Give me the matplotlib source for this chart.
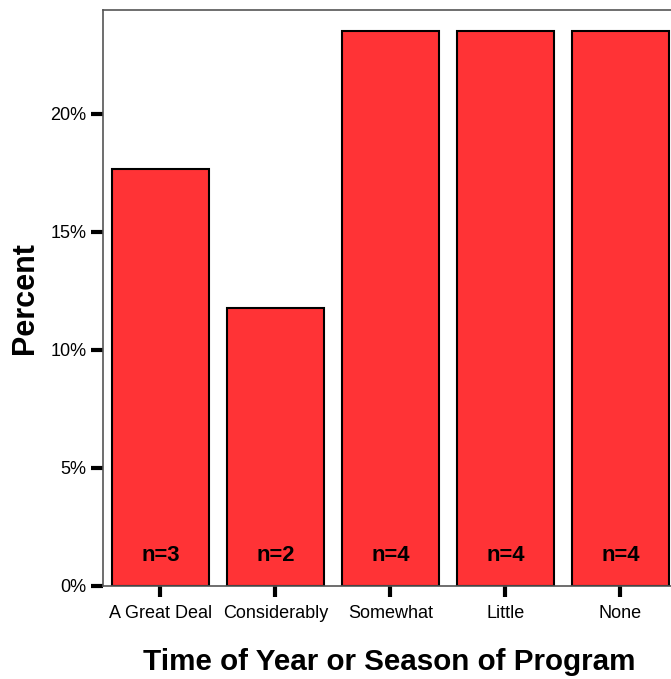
import matplotlib
matplotlib.use('Agg')
import matplotlib.pyplot as plt
from matplotlib.ticker import FuncFormatter

categories = ['A Great Deal', 'Considerably', 'Somewhat', 'Little', 'None']
counts = [3, 2, 4, 4, 4]
total = sum(counts)
percents = [100.0 * c / total for c in counts]

plt.rcParams['font.family'] = ['Liberation Sans', 'DejaVu Sans']

fig = plt.figure(figsize=(6.71, 6.79), dpi=100)
ax = fig.add_axes([103 / 671, 1 - 586 / 679, 1 - 103 / 671, (586 - 10) / 679])

x = list(range(len(categories)))
ax.bar(x, percents, width=0.84, color='#ff3336', edgecolor='black', linewidth=1.5, zorder=2)

for xi, n in zip(x, counts):
    ax.text(xi, 1.3, 'n=%d' % n, ha='center', va='center',
            fontsize=15.8, fontweight='bold', color='black', zorder=3)

ax.set_xlim(-0.5, 4.44)
ax.set_ylim(0, 24.4)
ax.set_xticks(x)
ax.set_xticklabels(categories, fontsize=13)
ax.set_yticks([0, 5, 10, 15, 20])
ax.yaxis.set_major_formatter(FuncFormatter(lambda v, p: '%d%%' % v))
ax.tick_params(axis='y', labelsize=13, length=9, width=3, direction='out', pad=3)
ax.tick_params(axis='x', length=8, width=3, direction='out', pad=6)

for side in ['left', 'top', 'bottom']:
    ax.spines[side].set_color('#555555')
    ax.spines[side].set_linewidth(1.2)
ax.spines['right'].set_visible(False)

ax.set_ylabel('Percent', fontsize=22, fontweight='bold')
ax.yaxis.set_label_coords(-0.111, 0.5)
ax.set_xlabel('Time of Year or Season of Program', fontsize=21.3, fontweight='bold')
ax.xaxis.set_label_coords(0.5035, -0.107)

fig.savefig('out.png', dpi=100)
